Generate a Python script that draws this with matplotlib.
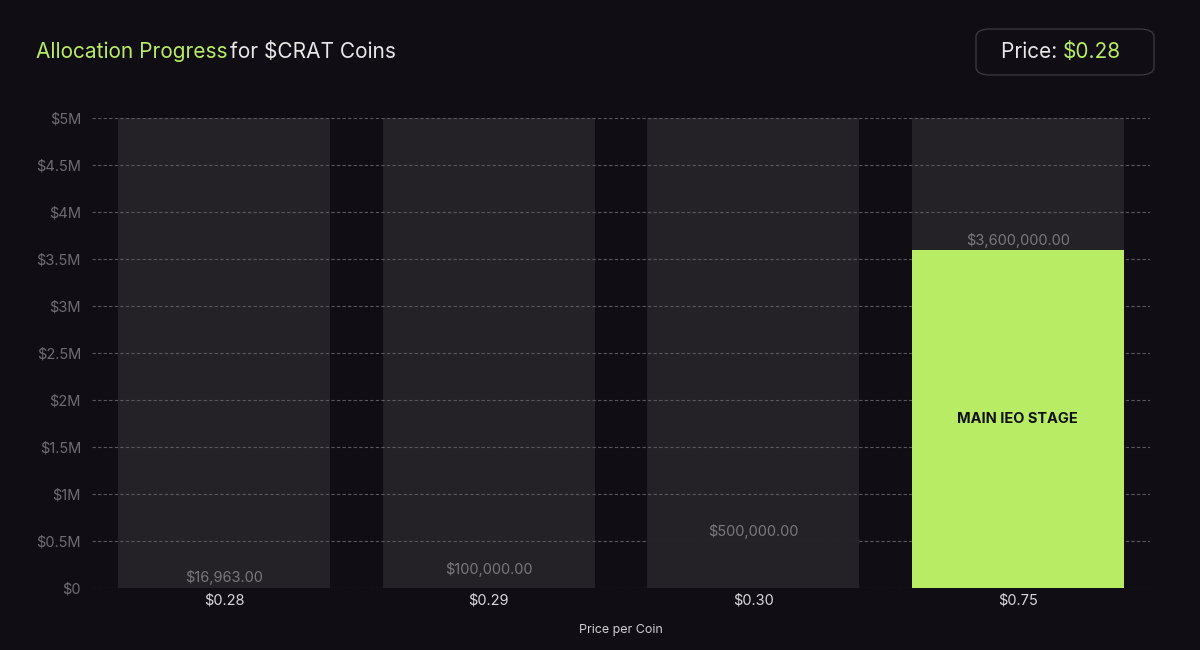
import matplotlib
matplotlib.use("Agg")
import matplotlib.pyplot as plt
from matplotlib.patches import FancyBboxPatch

categories = ["$0.28", "$0.29", "$0.30", "$0.75"]
raised = [16963, 100000, 500000, 3600000]
capacity = [5000000, 5000000, 5000000, 5000000]
value_labels = ["$16,963.00", "$100,000.00", "$500,000.00", "$3,600,000.00"]
yticks = [0, 500000, 1000000, 1500000, 2000000, 2500000, 3000000, 3500000, 4000000, 4500000, 5000000]
ytick_labels = ["$0", "$0.5M", "$1M", "$1.5M", "$2M", "$2.5M", "$3M", "$3.5M", "$4M", "$4.5M", "$5M"]

BG = "#110d15"
plt.rcParams['font.family'] = ['Inter', 'DejaVu Sans']
fig = plt.figure(figsize=(12, 6.5), dpi=100, facecolor=BG)
ax = fig.add_axes([92/1200, 1-588/650, 1058/1200, 470/650], facecolor=BG)

x = range(len(categories))
ax.bar(x, capacity, width=0.8, color="#252227", zorder=1)
colors = ["#252227", "#252227", "#252227", "#b8ec64"]
ax.bar(x, raised, width=0.8, color=colors, zorder=3)
for i, (v, lab) in enumerate(zip(raised, value_labels)):
    ax.text(i, v + 20000, lab, ha="center", va="bottom", color="#7a777d", fontsize=10.5, zorder=4)
ax.text(3, raised[3] / 2, "MAIN IEO STAGE", ha="center", va="center", color="#111111",
        fontsize=10.5, fontweight="bold", zorder=4)

ax.set_xlim(-0.5, 3.5)
ax.set_ylim(0, 5000000)
ax.set_yticks(yticks)
ax.set_yticklabels(ytick_labels)
ax.set_xticks(list(x))
ax.set_xticklabels(categories)
ax.yaxis.grid(True, linestyle=(0, (3, 2)), color="#5a5760", linewidth=0.8, zorder=2)
ax.set_axisbelow(False)
for gl in ax.get_ygridlines():
    gl.set_zorder(2)
for s in ax.spines.values():
    s.set_visible(False)
ax.tick_params(axis="y", colors="#6f6c73", labelsize=10.5, length=0, pad=8)
ax.tick_params(axis="x", colors="#d8d8d8", labelsize=10.5, length=0, pad=4)
ax.set_xlabel("Price per Coin", color="#cfcfcf", fontsize=9, labelpad=12)

fig.text(36/1200, 1-52/650, "Allocation Progress", color="#b8ec64", fontsize=15, va="center")
fig.text(230/1200, 1-52/650, "for $CRAT Coins", color="#e8e8e8", fontsize=15, va="center")

box = FancyBboxPatch((976/1200, 1-75/650), 178/1200, 46/650,
                     boxstyle="round,pad=0,rounding_size=0.012", transform=fig.transFigure,
                     facecolor=BG, edgecolor="#3a373d", linewidth=1)
fig.patches.append(box)
fig.text(1063/1200, 1-52/650, "Price: ", color="#e8e8e8", fontsize=15, va="center", ha="right")
fig.text(1063/1200, 1-52/650, "$0.28", color="#b8ec64", fontsize=15, va="center", ha="left")

fig.savefig("out.png", dpi=100, facecolor=BG)
